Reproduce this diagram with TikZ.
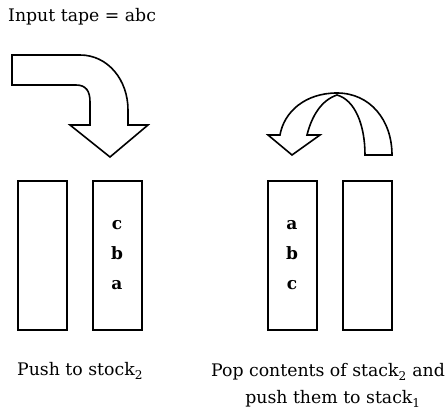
\documentclass[tikz,border=0pt]{standalone}
\usepackage{fontspec}
\setmainfont{DejaVu Serif}
\begin{document}
\begin{tikzpicture}[x=1pt,y=-1pt,
  shapeline/.style={draw=black,line width=1.6pt,line join=miter,fill=white},
  stackbox/.style={draw=black,line width=1.6pt,minimum width=49pt,minimum height=149pt,inner sep=0pt},
  lbl/.style={inner sep=0pt,font=\fontsize{17.3}{20}\selectfont},
  ltr/.style={inner sep=0pt,font=\fontsize{17}{20}\selectfont\bfseries}]
\useasboundingbox (0,0) rectangle (448,414);
% title
\node[lbl,anchor=base west] (title) at (8,22) {Input tape = abc};
% left bent arrow
\draw[shapeline] (12,55) -- (80,55) .. controls (108,55) and (128,80) .. (128,110)
  -- (128,125) -- (148,125) -- (110,157) -- (70,125) -- (90,125) -- (90,102)
  .. controls (90,91) and (86,85) .. (76,85) -- (12,85) -- cycle;
% right curved arrow
\draw[shapeline] (392,155) .. controls (392,120) and (370,93) .. (337,93)
  .. controls (305,93) and (284,112) .. (280,135)
  -- (268,135) -- (292,155) -- (320,135) -- (307,135)
  .. controls (312,115) and (322,100) .. (337,95)
  .. controls (355,100) and (365,125) .. (365,155) -- cycle;
% stacks
\node[stackbox] (s1) at (42.75,255.5) {};
\node[stackbox] (s2) at (117.5,255.5) {};
\node[stackbox] (s3) at (292.5,255.5) {};
\node[stackbox] (s4) at (367.5,255.5) {};
% contents
\node[ltr,anchor=base] (c2) at (117,230) {c};
\node[ltr,anchor=base] (b2) at (117,260) {b};
\node[ltr,anchor=base] (a2) at (117,290) {a};
\node[ltr,anchor=base] (a3) at (292,230) {a};
\node[ltr,anchor=base] (b3) at (292,260) {b};
\node[ltr,anchor=base] (c3) at (292,290) {c};
% captions
\node[lbl,anchor=base west] (cap1) at (17,376) {Push to stock\textsubscript{2}};
\node[lbl,anchor=base] (cap2a) at (328,377) {Pop contents of stack\textsubscript{2} and};
\node[lbl,anchor=base] (cap2b) at (333,404) {push them to stack\textsubscript{1}};
\end{tikzpicture}
\end{document}
